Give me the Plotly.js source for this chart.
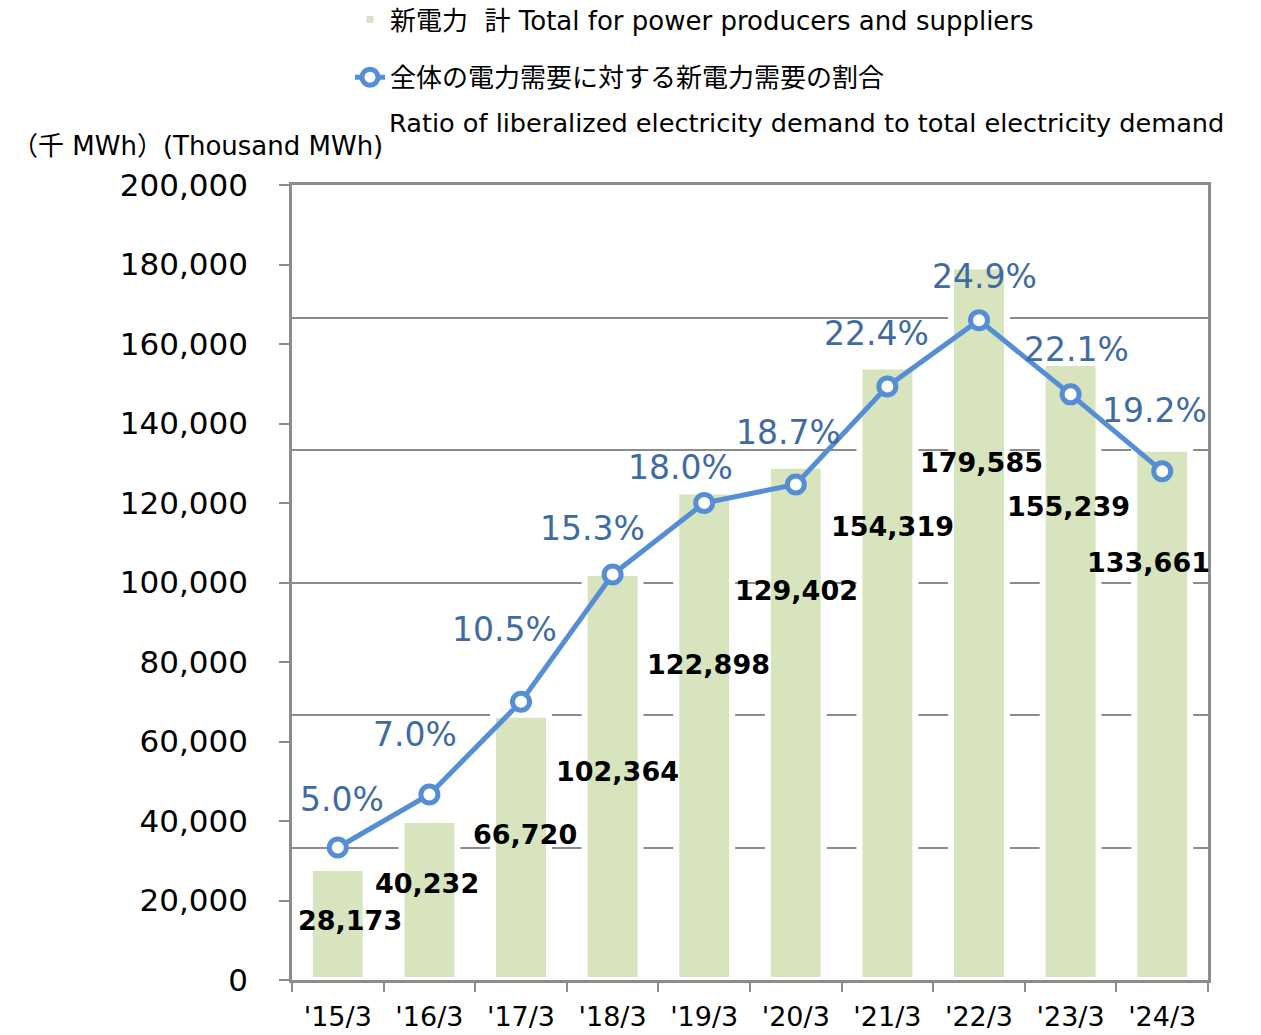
<!DOCTYPE html>
<html><head><meta charset="utf-8">
<script src="https://cdn.plot.ly/plotly-3.0.1.min.js"></script>
<style>html,body{margin:0;padding:0;background:#fff}</style>
</head><body><div id="chart" style="width:1261px;height:1035px"></div>
<script>
const categories = ["'15/3","'16/3","'17/3","'18/3","'19/3","'20/3","'21/3","'22/3","'23/3","'24/3"];
const demandValues = [28173,40232,66720,102364,122898,129402,154319,179585,155239,133661];
const ratioValues = [5.0,7.0,10.5,15.3,18.0,18.7,22.4,24.9,22.1,19.2];
const barName = "新電力  計 Total for power producers and suppliers";
const lineName = "全体の電力需要に対する新電力需要の割合";
const lineNameEn = "Ratio of liberalized electricity demand to total electricity demand";
const yUnitLabel = "（千 MWh）(Thousand MWh)";

// label placement offsets in pixels (layout only)
const valueLabelShiftX = [12,-2,4,5,4,1,5,2,-2,-14];
const valueLabelShiftY = [-52,-63,-120,-198,-173,-125,-160,-196,-144,-114];
const ratioLabelShiftX = [4,-14,-17,-20,-24,-7,-11,5,6,-8];
const ratioLabelShiftY = [48,60,72,46,36,52,53,44,45,61];

const gray = '#8c8c8c';
const lineBlue = '#558ed5';
const labelBlue = '#3e6ba4';
const legendFont = 'DejaVu Sans, Noto Sans CJK JP, sans-serif';

const traces = [
  {
    type: 'bar', x: categories, y: demandValues, name: barName,
    legendgroup: 'a', width: 0.61,
    marker: {color: '#d7e4bd', line: {color: '#ffffff', width: 6}},
    hoverinfo: 'x+y'
  },
  {
    type: 'scatter', mode: 'lines+markers', x: categories, y: ratioValues, yaxis: 'y2',
    name: lineName, legendgroup: 'b',
    line: {color: lineBlue, width: 5},
    marker: {symbol: 'circle', size: 17, color: '#ffffff', line: {color: lineBlue, width: 5}},
    cliponaxis: false
  }
];

const annotations = [];
categories.forEach((c, i) => {
  annotations.push({
    x: c, y: demandValues[i], xref: 'x', yref: 'y', showarrow: false,
    text: demandValues[i].toLocaleString('en-US'),
    font: {family: 'DejaVu Sans', size: 27, color: '#000', weight: 'bold'},
    xshift: valueLabelShiftX[i], yshift: valueLabelShiftY[i],
    xanchor: 'center', yanchor: 'middle'
  });
  annotations.push({
    x: c, y: ratioValues[i], xref: 'x', yref: 'y2', showarrow: false,
    text: ratioValues[i].toFixed(1) + '%',
    font: {family: 'DejaVu Sans', size: 33, color: labelBlue},
    xshift: ratioLabelShiftX[i], yshift: ratioLabelShiftY[i],
    xanchor: 'center', yanchor: 'middle'
  });
});
annotations.push({
  xref: 'paper', yref: 'paper', x: 0.1037, y: 1.0777, xanchor: 'left', yanchor: 'middle',
  showarrow: false, text: lineNameEn, font: {family: legendFont, size: 25.6, color: '#000'}
});
annotations.push({
  xref: 'paper', yref: 'paper', x: -0.1037, y: 1.049, xanchor: 'center', yanchor: 'middle',
  showarrow: false, text: yUnitLabel, font: {family: legendFont, size: 26, color: '#000'}
});

const layout = {
  width: 1261, height: 1035,
  margin: {l: 292, r: 53, t: 185, b: 55, pad: 0, autoexpand: false},
  paper_bgcolor: '#fff', plot_bgcolor: '#fff',
  showlegend: true,
  xaxis: {
    type: 'category', range: [-0.5, 9.5], autorange: false,
    showline: true, linecolor: gray, linewidth: 2.5, mirror: true,
    ticks: 'outside', tickson: 'boundaries', ticklen: 9, tickwidth: 2, tickcolor: gray,
    tickfont: {family: 'DejaVu Sans', size: 27, color: '#000'}, showgrid: false,
    ticklabelstandoff: 11
  },
  yaxis: {
    range: [0, 200000], dtick: 20000, tickformat: ',d',
    showline: true, linecolor: gray, linewidth: 2.5, mirror: true,
    ticks: 'outside', ticklen: 10, tickwidth: 2, tickcolor: gray,
    showgrid: false, zeroline: false,
    tickfont: {family: 'DejaVu Sans', size: 31, color: '#000'},
    ticklabelstandoff: 25
  },
  yaxis2: {
    overlaying: 'y', side: 'right', range: [0, 30], dtick: 5,
    showgrid: true, gridcolor: gray, gridwidth: 2,
    showticklabels: false, zeroline: false, showline: false, ticks: ''
  },
  legend: {
    x: 0.0633, xanchor: 'left', y: 1.2377, yanchor: 'top',
    font: {family: legendFont, size: 26, color: '#000'},
    traceorder: 'grouped', tracegroupgap: 21, bgcolor: 'rgba(0,0,0,0)'
  },
  annotations: annotations
};

Plotly.newPlot('chart', traces, layout, {displayModeBar: false, responsive: false});
</script>
</body></html>
